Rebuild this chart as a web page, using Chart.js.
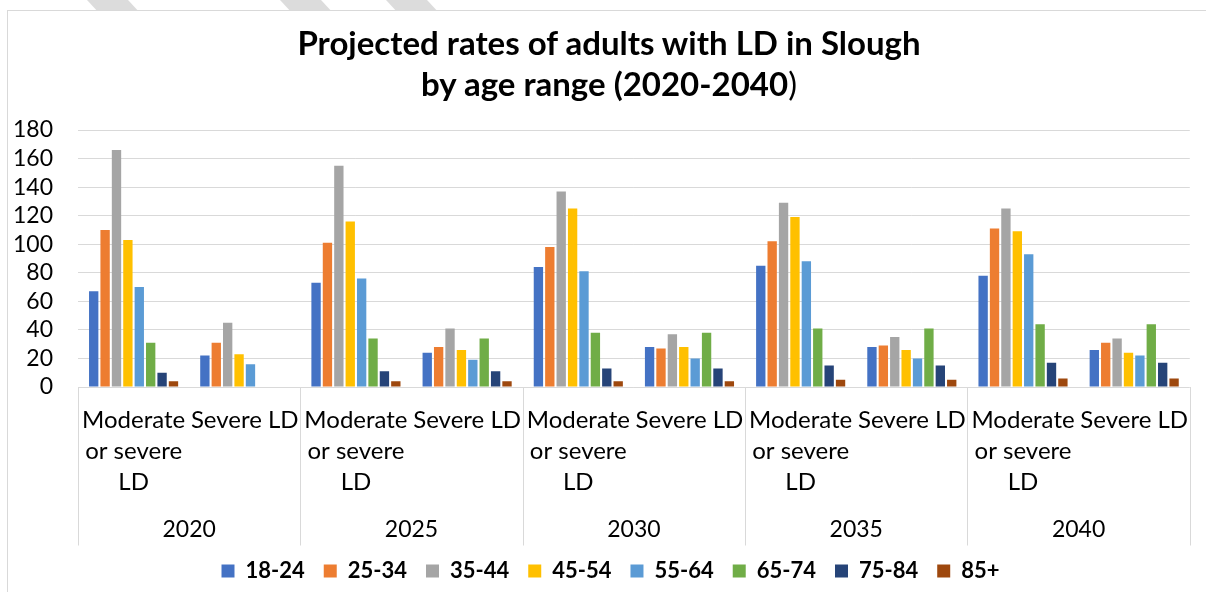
<!DOCTYPE html>
<html>
<head>
<meta charset="utf-8">
<script src="https://cdn.jsdelivr.net/npm/chart.js@4.4.0/dist/chart.umd.min.js"></script>
<style>
  body { margin: 0; background: #fff; }
  #wrap { position: relative; width: 1206px; height: 592px; overflow: hidden; background: #fff; }
  .stripe { position: absolute; top: 0; height: 10px; width: 41px; background: #dcdcdc; transform: skewX(43deg); transform-origin: top left; }
  #frame { position: absolute; left: 7px; top: 10px; width: 1230px; height: 620px; border: 1px solid #d9d9d9; box-sizing: border-box; }
  #title { position: absolute; left: 0; top: 22px; width: 1218px; text-align: center; font: bold 33px Lato, sans-serif; line-height: 41px; color: #000; }
  #title .plain { font-weight: normal; }
  canvas { position: absolute; left: 0; top: 0; }
</style>
</head>
<body>
<div id="wrap">
  <div class="stripe" style="left:87px"></div>
  <div class="stripe" style="left:280px"></div>
  <div class="stripe" style="left:386px"></div>
  <div id="frame"></div>
  <canvas id="myChart" width="1206" height="592"></canvas>
  <div id="title">Projected rates of adults with LD in Slough<br>by age range (2020-2040<span class="plain">)</span></div>
</div>
<script>
// categories
const years = ['2020', '2025', '2030', '2035', '2040'];
const levels = [['Moderate', 'or severe', 'LD'], 'Severe LD'];
const ageBands = ['18-24', '25-34', '35-44', '45-54', '55-64', '65-74', '75-84', '85+'];
const colors = ['#4472C4', '#ED7D31', '#A5A5A5', '#FFC000', '#5B9BD5', '#70AD47', '#264478', '#9E480E'];

// values per age band, order: 2020 mod, 2020 sev, 2025 mod, 2025 sev, ... 2040 sev
const age18to24 = [67, 22, 73, 24, 84, 28, 85, 28, 78, 26];
const age25to34 = [110, 31, 101, 28, 98, 27, 102, 29, 111, 31];
const age35to44 = [166, 45, 155, 41, 137, 37, 129, 35, 125, 34];
const age45to54 = [103, 23, 116, 26, 125, 28, 119, 26, 109, 24];
const age55to64 = [70, 16, 76, 19, 81, 20, 88, 20, 93, 22];
const age65to74 = [31, null, 34, 34, 38, 38, 41, 41, 44, 44];
const age75to84 = [10, null, 11, 11, 13, 13, 15, 15, 17, 17];
const age85plus = [4, null, 4, 4, 4, 4, 5, 5, 6, 6];
const seriesValues = [age18to24, age25to34, age35to44, age45to54, age55to64, age65to74, age75to84, age85plus];

const yTicks = [0, 20, 40, 60, 80, 100, 120, 140, 160, 180];

// sub-category labels, one per bar cluster
const subLabels = [];
years.forEach(() => levels.forEach(l => subLabels.push(l)));

Chart.defaults.font.family = 'Lato';
Chart.defaults.color = '#000';

// separator lines of the two-level category axis
const groupLines = {
    id: 'groupLines',
    afterLayout(chart) {
        // nudge the legend row to where the original sits
        chart.legend.left += 12;
        chart.legend.right += 12;
    },
    afterDraw(chart) {
        const x = chart.scales.x;
        const x2 = chart.scales.x2;
        const ctx = chart.ctx;
        const bottom = x2.top + x2.options.ticks.padding + 31;
        ctx.save();
        ctx.strokeStyle = '#d9d9d9';
        ctx.lineWidth = 1;
        for (let j = 0; j <= years.length; j++) {
            const px = Math.round(x.getPixelForValue(j * levels.length - 0.5)) + 0.5;
            ctx.beginPath();
            ctx.moveTo(px, chart.chartArea.bottom);
            ctx.lineTo(px, bottom);
            ctx.stroke();
        }
        ctx.restore();
    }
};

const ctx = document.getElementById('myChart').getContext('2d');
const myChart = new Chart(ctx, {
    type: 'bar',
    data: {
        labels: subLabels,
        datasets: ageBands.map((band, i) => ({
            label: band,
            data: seriesValues[i],
            backgroundColor: colors[i],
            barPercentage: 0.82,
            categoryPercentage: 0.82
        }))
    },
    options: {
        responsive: false,
        animation: false,
        layout: { padding: { top: 130, left: 0, right: 9, bottom: 0 } },
        scales: {
            x: {
                offset: true,
                grid: { display: false, drawTicks: false, tickLength: 0 },
                border: { display: false },
                ticks: {
                    maxRotation: 0,
                    autoSkip: false,
                    padding: 17.5,
                    font: { size: 24, lineHeight: '31px' }
                },
                afterFit: (s) => { s.height = 110.5; }
            },
            x2: {
                type: 'category',
                position: 'bottom',
                labels: years,
                offset: true,
                grid: { display: false, drawTicks: false, tickLength: 0 },
                border: { display: false },
                ticks: {
                    maxRotation: 0,
                    autoSkip: false,
                    padding: 17,
                    font: { size: 23, lineHeight: '31px' }
                },
                afterFit: (s) => { s.height = 43.5; }
            },
            y: {
                min: 0,
                max: 180,
                afterBuildTicks: (s) => { s.ticks = yTicks.map(v => ({ value: v })); },
                grid: { color: '#d9d9d9', lineWidth: 1, drawTicks: false },
                border: { display: false },
                ticks: {
                    autoSkip: false,
                    padding: 25,
                    font: { size: 23 }
                },
                afterFit: (s) => { s.width = 78; }
            }
        },
        plugins: {
            title: { display: false },
            tooltip: { enabled: false },
            legend: {
                position: 'bottom',
                labels: {
                    boxWidth: 13,
                    boxHeight: 13,
                    padding: 19,
                    color: '#000',
                    font: { size: 22, weight: 'bold' }
                }
            }
        }
    },
    plugins: [groupLines]
});
</script>
</body>
</html>
